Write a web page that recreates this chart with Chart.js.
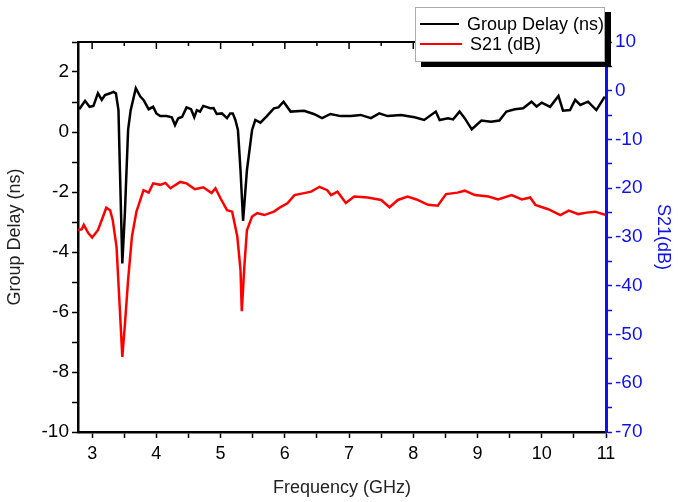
<!DOCTYPE html>
<html>
<head>
<meta charset="utf-8">
<script src="https://cdn.jsdelivr.net/npm/chart.js@4"></script>
<style>
  body { margin: 0; background: #fff; }
  #wrap { position: relative; width: 678px; height: 502px; }
  #legend {
    position: absolute; left: 415px; top: 7px; width: 190px; height: 55px;
    background: #fff; border: 1px solid #aaa; box-shadow: 6px 5px 0 #000;
    font-family: "Liberation Sans", Arial, sans-serif; font-size: 18px; color: #000;
    box-sizing: border-box; padding-top: 6px; white-space: nowrap; overflow: hidden;
  }
  #legend .row { height: 20px; display: flex; align-items: center; }
  #legend .sw { display: inline-block; width: 42px; height: 2.5px; margin: 0 8px 0 4px; }
</style>
</head>
<body>
<div id="wrap">
  <canvas id="chart" width="678" height="502"></canvas>
  <div id="legend"></div>
</div>
<script>
// Group delay trace (GHz, ns)
const gdFreq = [2.78, 2.81, 2.89, 2.96, 3.02, 3.09, 3.15, 3.2, 3.28, 3.33,
                3.37, 3.41, 3.43, 3.47, 3.51, 3.56, 3.6, 3.68, 3.75, 3.8,
                3.88, 3.95, 4.0, 4.06, 4.16, 4.24, 4.29, 4.34, 4.4, 4.47,
                4.54, 4.59, 4.63, 4.68, 4.73, 4.84, 4.89, 4.94, 5.02, 5.1,
                5.15, 5.19, 5.23, 5.27, 5.31, 5.35, 5.41, 5.49, 5.54, 5.62,
                5.72, 5.83, 5.9, 5.98, 6.09, 6.3, 6.45, 6.58, 6.71, 6.87,
                7.03, 7.18, 7.34, 7.47, 7.6, 7.81, 8.02, 8.17, 8.35, 8.41,
                8.54, 8.62, 8.72, 8.8, 8.91, 9.06, 9.21, 9.34, 9.45, 9.58,
                9.71, 9.84, 9.92, 10.0, 10.13, 10.26, 10.33, 10.44, 10.52, 10.6,
                10.72, 10.85, 10.98];
const groupDelay = [0.8, 0.79, 1.04, 0.84, 0.87, 1.29, 1.07, 1.23, 1.29, 1.34,
                    1.29, 0.73, -1.04, -4.38, -2.7, 0.07, 0.73, 1.46, 1.18, 1.07,
                    0.76, 0.84, 0.62, 0.53, 0.53, 0.49, 0.23, 0.46, 0.5, 0.82,
                    0.76, 0.49, 0.73, 0.68, 0.87, 0.79, 0.8, 0.6, 0.62, 0.46,
                    0.62, 0.62, 0.4, 0.07, -1.27, -2.96, -1.27, 0.07, 0.4, 0.31,
                    0.53, 0.79, 0.82, 1.01, 0.68, 0.71, 0.6, 0.46, 0.6, 0.53,
                    0.53, 0.57, 0.46, 0.62, 0.53, 0.57, 0.49, 0.4, 0.68, 0.4,
                    0.46, 0.42, 0.68, 0.46, 0.09, 0.38, 0.34, 0.38, 0.68, 0.76,
                    0.79, 1.01, 0.85, 0.98, 0.84, 1.2, 0.71, 0.73, 1.07, 0.9,
                    1.01, 0.73, 1.18];

// S21 trace (GHz, dB)
const s21Freq = [2.78, 2.84, 2.87, 2.94, 3.0, 3.09, 3.15, 3.22, 3.28, 3.32,
                 3.38, 3.42, 3.47, 3.51, 3.56, 3.62, 3.69, 3.8, 3.88, 3.95,
                 4.06, 4.14, 4.22, 4.37, 4.47, 4.6, 4.73, 4.86, 4.92, 5.0,
                 5.1, 5.18, 5.26, 5.31, 5.33, 5.37, 5.41, 5.49, 5.57, 5.68,
                 5.83, 5.94, 6.04, 6.15, 6.3, 6.41, 6.54, 6.66, 6.72, 6.82,
                 6.95, 7.08, 7.29, 7.5, 7.63, 7.76, 7.91, 8.05, 8.23, 8.38,
                 8.51, 8.69, 8.8, 8.96, 9.17, 9.32, 9.53, 9.69, 9.82, 9.9,
                 10.1, 10.29, 10.42, 10.57, 10.7, 10.83, 11.0];
const s21 = [-28.6, -28.4, -27.5, -29.2, -30.1, -28.6, -26.5, -24.0, -24.5, -26.5,
             -32, -42, -54.6, -48, -38.8, -29.9, -24.8, -20.4, -20.9, -19.0,
             -19.3, -18.9, -20.0, -18.7, -19.0, -20.2, -19.8, -21.0, -20.0, -22.1,
             -24.5, -24.8, -29.9, -36.8, -45.2, -36, -28.6, -25.8, -25.1, -25.5,
             -24.8, -23.8, -23.1, -21.4, -21.0, -20.7, -19.7, -20.4, -21.4, -20.7,
             -23.0, -21.7, -21.9, -22.4, -23.9, -22.4, -21.7, -22.3, -23.4, -23.6,
             -21.2, -20.9, -20.5, -21.4, -21.7, -22.3, -21.4, -22.3, -21.9, -23.4,
             -24.3, -25.5, -24.6, -25.3, -25.0, -24.8, -25.5];

const FONT = '"Liberation Sans", Arial, sans-serif';
const BLUE = '#1010ee';

// top frame with inward ticks
const topFrame = {
    id: 'topFrame',
    afterDraw(chart) {
        const ctx = chart.ctx, a = chart.chartArea, xs = chart.scales.x;
        ctx.save();
        ctx.strokeStyle = '#000';
        ctx.lineWidth = 2;
        ctx.beginPath();
        ctx.moveTo(a.left, a.top);
        ctx.lineTo(a.right, a.top);
        ctx.stroke();
        ctx.lineWidth = 1.5;
        xs.ticks.forEach(t => {
            const x = xs.getPixelForValue(t.value);
            const len = Number.isInteger(t.value) ? 7 : 4;
            ctx.beginPath();
            ctx.moveTo(x, a.top);
            ctx.lineTo(x, a.top + len);
            ctx.stroke();
        });
        ctx.restore();
    }
};

const ctx = document.getElementById('chart').getContext('2d');
const chart = new Chart(ctx, {
    type: 'line',
    data: {
        datasets: [{
            label: 'Group Delay (ns)',
            data: gdFreq.map((f, i) => ({x: f, y: groupDelay[i]})),
            borderColor: '#000',
            borderWidth: 2.5,
            pointRadius: 0,
            tension: 0,
            yAxisID: 'y'
        }, {
            label: 'S21 (dB)',
            data: s21Freq.map((f, i) => ({x: f, y: s21[i]})),
            borderColor: '#ff0000',
            borderWidth: 2.5,
            pointRadius: 0,
            tension: 0,
            yAxisID: 'y2'
        }]
    },
    options: {
        responsive: false,
        animation: false,
        layout: { padding: { top: 42, left: 0, right: 0, bottom: 0 } },
        plugins: { legend: { display: false }, tooltip: { enabled: false } },
        scales: {
            x: {
                type: 'linear',
                min: 2.78, max: 11,
                afterFit: s => { s.height = 70; },
                border: { color: '#000', width: 2.5 },
                grid: { drawOnChartArea: false, color: '#000', tickLength: 6, tickWidth: 1.5 },
                ticks: {
                    stepSize: 0.5, includeBounds: false, autoSkip: false, maxRotation: 0,
                    padding: 5, color: '#000', font: { family: FONT, size: 18 },
                    callback: v => Number.isInteger(v) ? v : ''
                },
                title: { display: true, text: 'Frequency (GHz)', color: '#222',
                         font: { family: FONT, size: 18 }, padding: { top: 4, bottom: 3 } }
            },
            y: {
                position: 'left',
                min: -10, max: 3,
                afterFit: s => { s.width = 78; },
                border: { color: '#000', width: 2.5 },
                grid: { drawOnChartArea: false, color: '#000', tickLength: 6, tickWidth: 1.5 },
                ticks: {
                    stepSize: 1, autoSkip: false, padding: 3, color: '#000',
                    font: { family: FONT, size: 19 },
                    callback: v => (v % 2 === 0 && v <= 2) ? v : ''
                },
                title: { display: true, text: 'Group Delay (ns)', color: '#222',
                         font: { family: FONT, size: 18 }, padding: { top: 4, bottom: 4 } }
            },
            y2: {
                position: 'right',
                min: -70, max: 10,
                afterFit: s => { s.width = 72; },
                border: { color: BLUE, width: 3 },
                grid: { drawOnChartArea: false, color: BLUE, tickLength: 6, tickWidth: 1.5 },
                ticks: {
                    stepSize: 5, autoSkip: false, padding: 3, color: BLUE,
                    font: { family: FONT, size: 19 },
                    callback: v => v % 10 === 0 ? v : ''
                },
                title: { display: true, text: 'S21(dB)', color: BLUE,
                         font: { family: FONT, size: 18 }, padding: { top: 4, bottom: 4 } }
            }
        }
    },
    plugins: [topFrame]
});

// legend built from the datasets
const legend = document.getElementById('legend');
chart.data.datasets.forEach(ds => {
    const row = document.createElement('div');
    row.className = 'row';
    row.innerHTML = '<span class="sw" style="background:' + ds.borderColor + '"></span>' + ds.label;
    legend.appendChild(row);
});
</script>
</body>
</html>
